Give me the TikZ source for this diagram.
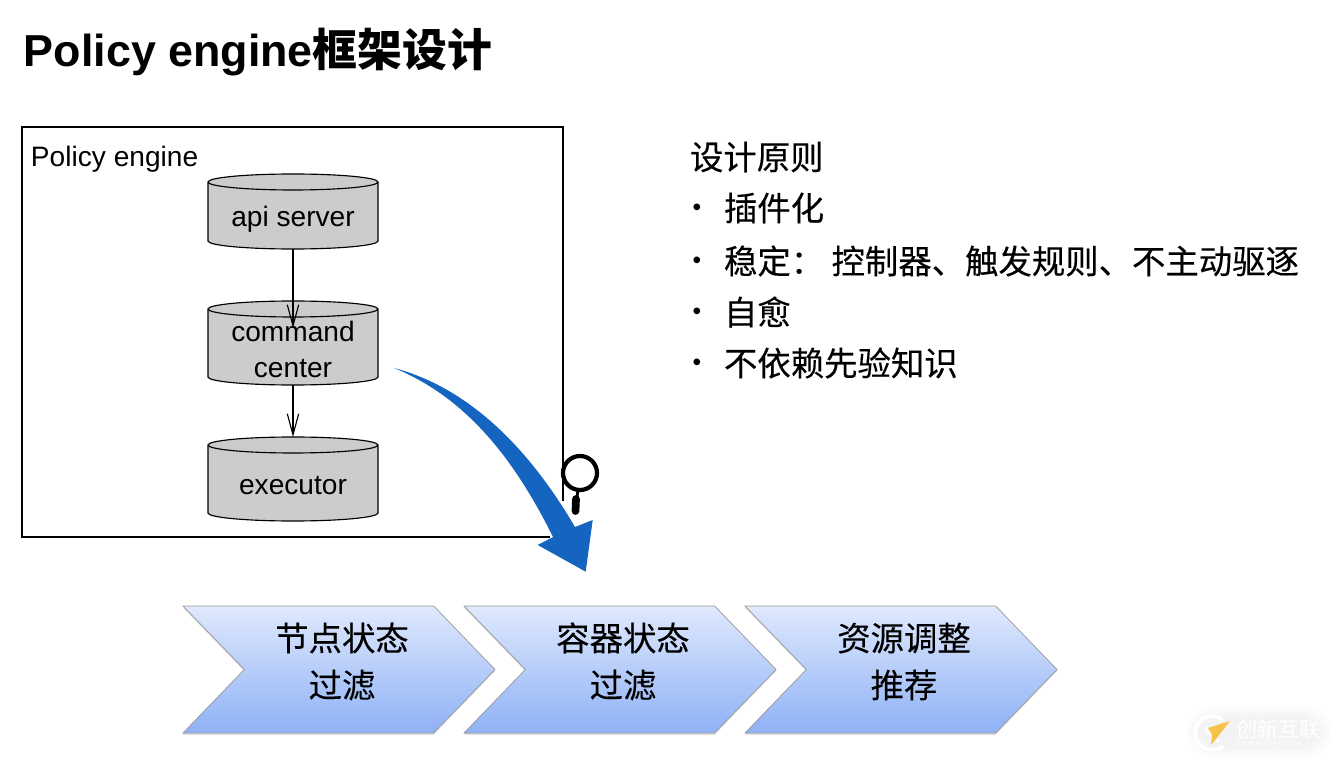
\documentclass[tikz,border=0pt]{standalone}
\usepackage{fontspec}
\setmainfont{Liberation Sans}
\newfontfamily\cjk[FakeBold=.25]{Noto Sans CJK SC}
\newfontfamily\cjktitle{Noto Sans CJK SC}
\usetikzlibrary{arrows.meta,shapes.geometric,shapes.symbols,shadows}
\definecolor{arrowblue}{HTML}{1565C0}
\definecolor{chevtop}{HTML}{DFE9FD}
\definecolor{chevbottom}{HTML}{8FB1F6}
\definecolor{logoyellow}{HTML}{F5C24A}
\tikzset{
    every node/.style={font=\fontsize{16}{21}\selectfont, inner sep=0, outer sep=0},
    store/.style={draw, line width=.65pt, fill=black!20, cylinder, anchor=top, shape border rotate=90, aspect=.13, minimum width=170*.02cm, text width=70pt, text height=10pt, text depth=0pt},
    storetext/.style={align=center},
    flow/.style={line width=.65pt, -{Straight Barb[length=12pt,width=6.5pt]}},
    chevron/.style={signal, signal to=east, signal from=west, signal pointer angle=92, draw=black!40, top color=chevtop, bottom color=chevbottom, minimum width=312*.02cm, minimum height=127*.02cm, drop shadow={shadow xshift=0pt, shadow yshift=-1pt, opacity=.25}},
    chevtext/.style={align=center, font=\cjk\fontsize{19}{26.7}\selectfont},
    rule/.style={anchor=west, font=\cjk\fontsize{19}{26}\selectfont},
}

\begin{document}
\begin{tikzpicture}[x=.02cm, y=-.02cm]
    \useasboundingbox (0,0) rectangle (1330,760);

    \node [anchor=west, font=\bfseries\fontsize{25.5}{30}\selectfont] (title) at (24,52) {Policy engine{\cjktitle 框架设计}};

    % outer box, right side stops short of the lower corner
    \draw [line width=.65pt] (563,501) -- (563,127) -- (22,127) -- (22,537) -- (550,537);
    \node [anchor=west] (boxlabel) at (31,159) {Policy engine};

    \node [store, minimum height=75*.02cm] (api) at (293,174) {};
    \node [store, minimum height=84*.02cm] (command) at (293,301) {};
    \node [store, minimum height=84*.02cm] (executor) at (293,437) {};
    \node [storetext] (apitext) at ([yshift=-45*.02cm]api.top) {api server};
    \node [storetext] (commandtext) at ([yshift=-48.5*.02cm]command.top) {command\\center};
    \node [storetext] (executortext) at ([yshift=-49*.02cm]executor.top) {executor};
    \coordinate (commandin) at (293,328);
    \draw [flow] (api.bottom) -- (commandin);
    \draw [flow] (command.bottom) -- (executor.top);

    % big curved arrow
    \fill [arrowblue] (394,368) .. controls (470,388) and (530,450) .. (575,527)
        -- (592.7,520) -- (585.7,571.7) -- (537.7,545) -- (553,537)
        .. controls (510,450) and (460,395) .. (394,368) -- cycle;

    % magnifier
    \draw [line width=2.4pt, fill=white] (580,473) circle (17);
    \draw [line width=1.6pt] (578,490) -- (577,497);
    \draw [line width=4.4pt, line cap=round] (576,499) -- (575.5,511);

    \node [rule] (head) at (690,157) {设计原则};
    \foreach \yy/\txt in {208/插件化, 261/{稳定： 控制器、触发规则、不主动驱逐}, 312/自愈, 363/不依赖先验知识}{
        \node [anchor=center, font=\fontsize{14}{14}\selectfont] (bullet\yy) at (697,\yy+2) {•};
        \node [rule] (item\yy) at (724,\yy) {\txt};
    }

    \node [chevron] (stepa) at (339,669.5) {};
    \node [chevron] (stepb) at (620,669.5) {};
    \node [chevron] (stepc) at (901,669.5) {};
    \node [chevtext] (stepatext) at ([shift={(3,-8)}]stepa.center) {节点状态\\过滤};
    \node [chevtext] (stepbtext) at ([shift={(3,-8)}]stepb.center) {容器状态\\过滤};
    \node [chevtext] (stepctext) at ([shift={(3,-8)}]stepc.center) {资源调整\\推荐};

    % watermark
    \foreach \gg in {0,3,6,9}{
        \fill [black, fill opacity=.012, rounded corners=14pt] (1196-\gg,716-\gg) rectangle (1322+\gg,748+\gg);
    }
    \draw [white, line width=2pt] (1223,720) arc (-50:-310:17);
    \draw [white, line width=2pt] (1205,727) -- (1219,742);
    \fill [logoyellow] (1208,728) -- (1230,721) -- (1216,739) -- (1211,745) -- (1212,735) -- cycle;
    \node [anchor=west, text=white, font=\cjktitle\fontsize{12}{14}\selectfont] (wmark) at (1236,730) {创新互联};
    \node [anchor=west, text=white, font=\fontsize{3.6}{4}\selectfont] (wmarksub) at (1236,743) {CHUANG XIN HU LIAN};
\end{tikzpicture}
\end{document}
